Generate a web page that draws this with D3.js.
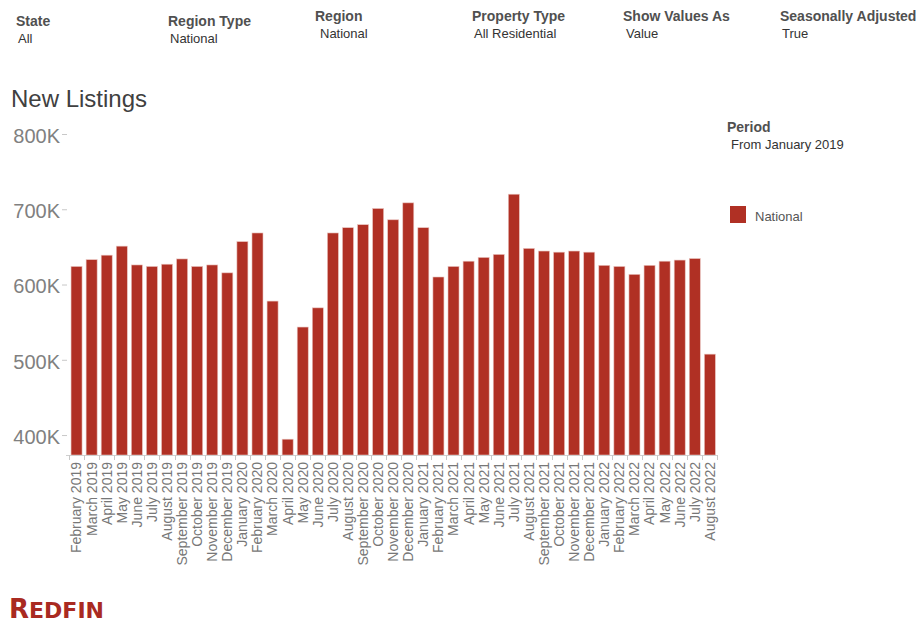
<!DOCTYPE html>
<html>
<head>
<meta charset="utf-8">
<script src="https://cdn.jsdelivr.net/npm/d3@7"></script>
<style>
  html, body { margin: 0; padding: 0; background: #fff; }
  svg { display: block; font-family: "Liberation Sans", Arial, Helvetica, sans-serif; }
</style>
</head>
<body>
<svg id="chart" width="919" height="635"></svg>
<script>
// ---- Data ----
const months = [
  "February 2019","March 2019","April 2019","May 2019","June 2019","July 2019","August 2019",
  "September 2019","October 2019","November 2019","December 2019",
  "January 2020","February 2020","March 2020","April 2020","May 2020","June 2020","July 2020",
  "August 2020","September 2020","October 2020","November 2020","December 2020",
  "January 2021","February 2021","March 2021","April 2021","May 2021","June 2021","July 2021",
  "August 2021","September 2021","October 2021","November 2021","December 2021",
  "January 2022","February 2022","March 2022","April 2022","May 2022","June 2022","July 2022",
  "August 2022"
];
const newListings = [
  624000, 633000, 639000, 651000, 626000, 624000, 627000, 634000, 624000, 626000, 615500,
  657000, 668500, 578000, 394500, 543500, 569000, 668500, 675500, 679500, 701000, 686000, 708500,
  675500, 610000, 624000, 631000, 636000, 640000, 720000, 648000, 644500, 643000, 644500, 643000,
  625500, 624000, 613500, 625500, 631000, 632500, 634500, 507500
];
const yTicks = [400000, 500000, 600000, 700000, 800000];
const filterLabels = ["State", "Region Type", "Region", "Property Type", "Show Values As", "Seasonally Adjusted"];
const filterValues = ["All", "National", "National", "All Residential", "Value", "True"];
const seriesName = "National";
const chartTitle = "New Listings";
const periodLabel = "Period";
const periodValue = "From January 2019";

// ---- Layout ----
const svg = d3.select("#chart");
const barColor = "#b03024";
const filterPos = [
  {x: 16, y: 26, vx: 18, vy: 43},
  {x: 168, y: 26, vx: 170, vy: 43},
  {x: 315, y: 21, vx: 320, vy: 38},
  {x: 472, y: 21, vx: 474, vy: 38},
  {x: 623, y: 21, vx: 626, vy: 38},
  {x: 780, y: 21, vx: 782, vy: 38}
];

// Filters header
filterLabels.forEach((lab, i) => {
  const p = filterPos[i];
  svg.append("text").attr("x", p.x).attr("y", p.y)
    .attr("font-size", 14).attr("font-weight", "bold").attr("fill", "#505050").text(lab);
  svg.append("text").attr("x", p.vx).attr("y", p.vy)
    .attr("font-size", 13).attr("fill", "#333").text(filterValues[i]);
});

// Title
svg.append("text").attr("x", 11).attr("y", 107)
  .attr("font-size", 24).attr("fill", "#404040").text(chartTitle);

// Scales
const x = d3.scaleBand().domain(months).range([69, 717.4]).paddingInner(0.27).paddingOuter(0.135);
const y = d3.scaleLinear().domain([373500, 800000]).range([455, 134]);

// Y axis
const yAxis = svg.append("g").attr("transform", "translate(67,0)")
  .call(d3.axisLeft(y).tickValues(yTicks).tickSize(5).tickPadding(2)
    .tickFormat(d => (d / 1000) + "K"));
yAxis.select(".domain").remove();
yAxis.selectAll(".tick line").attr("stroke", "#c8c8c8");
yAxis.selectAll(".tick text").attr("font-size", 20).attr("fill", "#808080")
  .attr("dy", "0.42em")
  .attr("font-family", "'Liberation Sans', Arial, sans-serif");

// Bars
svg.append("g").selectAll("rect").data(months).join("rect")
  .attr("x", d => x(d))
  .attr("width", x.bandwidth())
  .attr("y", (d, i) => y(newListings[i]))
  .attr("height", (d, i) => y.range()[0] - y(newListings[i]))
  .attr("fill", barColor)
  .attr("stroke", "#e9c2bd").attr("stroke-width", 0.6);

// X axis baseline and band ticks
const step = x.step();
const bounds = months.map(m => x(m) - step * x.paddingInner() / 2);
bounds.push(x(months[months.length - 1]) + x.bandwidth() + step * x.paddingInner() / 2);
svg.append("line").attr("x1", 66).attr("x2", 718).attr("y1", 455.5).attr("y2", 455.5)
  .attr("stroke", "#d0d0d0");
svg.append("g").selectAll("line").data(bounds).join("line")
  .attr("x1", d => Math.round(d) + 0.5).attr("x2", d => Math.round(d) + 0.5)
  .attr("y1", 455).attr("y2", 460).attr("stroke", "#c8c8c8");

// X labels
svg.append("g").selectAll("text").data(months).join("text")
  .attr("transform", d => `translate(${x(d) + x.bandwidth() / 2},462) rotate(-90)`)
  .attr("text-anchor", "end").attr("dy", "0.35em")
  .attr("font-size", 14).attr("fill", "#777").text(d => d);

// Legend
svg.append("text").attr("x", 727).attr("y", 132).attr("font-size", 14)
  .attr("font-weight", "bold").attr("fill", "#505050").text(periodLabel);
svg.append("text").attr("x", 731).attr("y", 149).attr("font-size", 13)
  .attr("fill", "#333").text(periodValue);
svg.append("rect").attr("x", 730).attr("y", 206).attr("width", 16).attr("height", 17)
  .attr("fill", barColor);
svg.append("text").attr("x", 755).attr("y", 221).attr("font-size", 13)
  .attr("fill", "#555").text(seriesName);

// Redfin logo
const logo = svg.append("text").attr("x", 9).attr("y", 618)
  .attr("font-family", "'Liberation Sans Narrow', 'DejaVu Sans Condensed', 'Liberation Sans', sans-serif")
  .attr("font-weight", "bold").attr("fill", "#a92a21")
  .attr("textLength", 95).attr("lengthAdjust", "spacingAndGlyphs");
logo.append("tspan").attr("font-size", 26).text("R");
logo.append("tspan").attr("font-size", 22).text("EDFIN");
</script>
</body>
</html>
